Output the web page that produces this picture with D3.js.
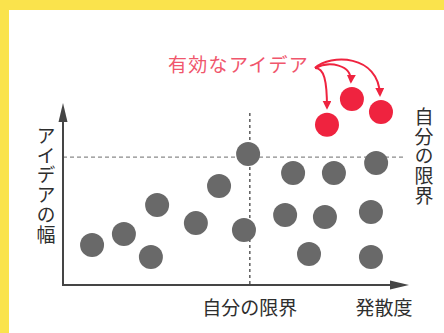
<!DOCTYPE html>
<html>
<head>
<meta charset="utf-8">
<script src="https://cdn.jsdelivr.net/npm/d3@7"></script>
<style>
  html, body { margin: 0; padding: 0; background: #fff; }
  svg text { font-family: "Noto Sans CJK JP", "Noto Sans", sans-serif; }
</style>
</head>
<body>
<svg id="chart" width="444" height="333"></svg>
<script>
// idea positions: [divergence, breadth] in axis units (0..100)
const ideas = [
    [8.4, 22], [17.6, 28], [25.4, 15.4], [27.2, 44], [38.4, 34], [45.1, 54.4],
    [53.5, 72], [52.3, 30.2], [66.5, 61.5], [78.3, 61.5], [90.5, 67],
    [64.2, 38.5], [75.7, 37.4], [89, 40.1], [71.1, 17], [89, 15.4]
];
const goodIdeas = [[76.3, 88], [83.5, 102.2], [91.9, 95]];
const limitX = 54;
const limitY = 70.3;

const xLabel = "発散度";
const yLabel = "アイデアの幅";
const limitLabel = "自分の限界";
const goodLabel = "有効なアイデア";

let svg = d3.select("#chart");

// yellow frame, top and left only
svg.append("rect").attr("x", 0).attr("y", 0).attr("width", 444).attr("height", 10).attr("fill", "#fae34c");
svg.append("rect").attr("x", 0).attr("y", 0).attr("width", 9).attr("height", 333).attr("fill", "#fae34c");

let x = d3.scaleLinear().domain([0, 100]).range([63, 409]),
    y = d3.scaleLinear().domain([0, 100]).range([285, 103]);

let axisColor = "#454545",
    dotColor = "#696969",
    red = "#ef233f";

// limit lines
svg.append("line")
   .attr("x1", x(0)).attr("x2", 405)
   .attr("y1", y(limitY)).attr("y2", y(limitY))
   .attr("stroke", "#8a8a8a").attr("stroke-width", 1.2).attr("stroke-dasharray", "4,3");
svg.append("line")
   .attr("x1", x(limitX)).attr("x2", x(limitX))
   .attr("y1", 113).attr("y2", y(0))
   .attr("stroke", "#444").attr("stroke-width", 1.3).attr("stroke-dasharray", "3,3");

// axes with arrow heads
svg.append("line")
   .attr("x1", x(0)).attr("x2", x(100) - 12)
   .attr("y1", y(0)).attr("y2", y(0))
   .attr("stroke", axisColor).attr("stroke-width", 2);
svg.append("line")
   .attr("x1", x(0)).attr("x2", x(0))
   .attr("y1", y(0) + 1).attr("y2", y(100) + 12)
   .attr("stroke", axisColor).attr("stroke-width", 2);
svg.append("path")
   .attr("d", `M${x(100)},${y(0)} L${x(100) - 19},${y(0) - 4.5} L${x(100) - 19},${y(0) + 4.5} Z`)
   .attr("fill", axisColor);
svg.append("path")
   .attr("d", `M${x(0)},${y(100)} L${x(0) - 4.5},${y(100) + 19} L${x(0) + 4.5},${y(100) + 19} Z`)
   .attr("fill", axisColor);

// dots
let r = 12;
svg.append("g").selectAll("circle")
   .data(ideas)
   .join("circle")
   .attr("cx", d => x(d[0]))
   .attr("cy", d => y(d[1]))
   .attr("r", r)
   .attr("fill", dotColor);

svg.append("g").selectAll("circle")
   .data(goodIdeas)
   .join("circle")
   .attr("cx", d => x(d[0]))
   .attr("cy", d => y(d[1]))
   .attr("r", r)
   .attr("fill", red);

// labels
let fs = 19;
svg.append("text")
   .attr("x", x(limitX)).attr("y", 315)
   .attr("text-anchor", "middle")
   .attr("font-size", fs).attr("fill", "#2e2e2e")
   .text(limitLabel);
svg.append("text")
   .attr("x", 384).attr("y", 315)
   .attr("text-anchor", "middle")
   .attr("font-size", fs).attr("fill", "#2e2e2e")
   .text(xLabel);

// vertical labels as a single text in vertical writing mode
let vertical = function(chars, cx, top) {
    svg.append("text")
       .attr("x", cx)
       .attr("y", top)
       .style("writing-mode", "vertical-rl")
       .attr("letter-spacing", 0.8)
       .attr("font-size", fs).attr("fill", "#2e2e2e")
       .text(chars);
};
vertical(yLabel, 46, 126);
vertical(limitLabel, 424, 107);

svg.append("text")
   .attr("x", 168).attr("y", 72)
   .attr("font-size", fs).attr("fill", "#f0566c")
   .attr("letter-spacing", 1.3)
   .text(goodLabel);

// curved arrows to the effective ideas
let defs = svg.append("defs");
defs.append("marker")
    .attr("id", "head")
    .attr("viewBox", "0 0 10 10")
    .attr("refX", 8).attr("refY", 5)
    .attr("markerWidth", 4.5).attr("markerHeight", 4.5)
    .attr("markerUnits", "strokeWidth")
    .attr("orient", "auto")
    .append("path")
    .attr("d", "M0,0 L10,5 L0,10 Z")
    .attr("fill", red);

let sx = 315, sy = 68;
let arrowPaths = goodIdeas.map(function(d, i) {
    let tx = x(d[0]), ty = y(d[1]) - r - 5;
    if (i === 0) return `M${sx},${sy} C${sx + 9},${sy} ${tx},${sy + 12} ${tx},${ty}`;
    if (i === 1) return `M${sx},${sy} C${sx + 14},${sy - 7} ${tx},${sy - 4} ${tx - 1},${ty}`;
    return `M${sx},${sy} C${sx + 15},${sy - 14} ${tx - 2},${sy - 14} ${tx - 1},${ty}`;
});
svg.append("g").selectAll("path")
   .data(arrowPaths)
   .join("path")
   .attr("d", d => d)
   .attr("fill", "none")
   .attr("stroke", red)
   .attr("stroke-width", 2)
   .attr("marker-end", "url(#head)");
</script>
</body>
</html>
